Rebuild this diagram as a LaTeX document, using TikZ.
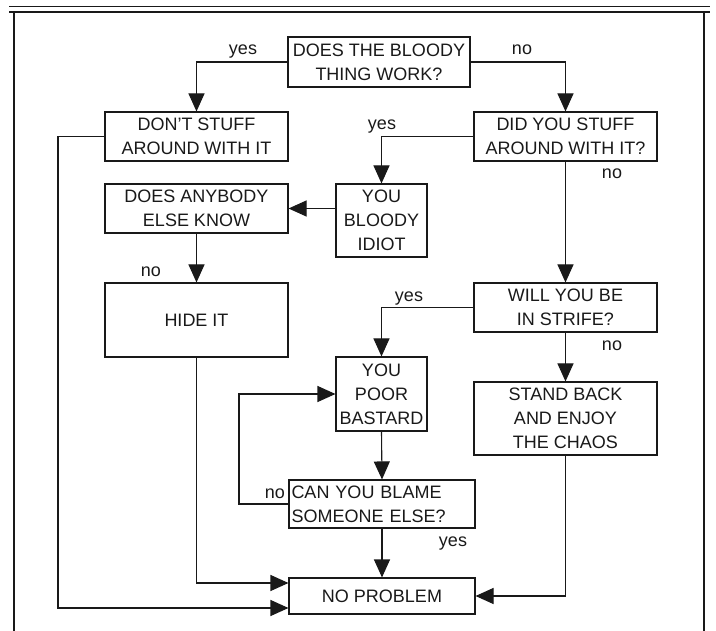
\documentclass[tikz,border=0pt]{standalone}
\usepackage{fontspec}
\setmainfont{Liberation Sans}
\usetikzlibrary{arrows.meta}
\definecolor{ink}{RGB}{25, 25, 25}

\begin{document}
\begin{tikzpicture}[x=1pt, y=-1pt,
    stepbox/.style={draw=ink, line width=1.1pt, rectangle, inner sep=0pt, align=center,
        text=ink, font=\fontsize{18}{24}\selectfont},
    widebox/.style={stepbox, minimum width=183pt, minimum height=49pt},
    narrowbox/.style={stepbox, minimum width=91pt, minimum height=73pt},
    flow/.style={draw=ink, line width=1.1pt, -{Triangle[length=18pt, width=16pt]}},
    answer/.style={text=ink, inner sep=0pt, anchor=base, font=\fontsize{18}{20}\selectfont}]
    % Page size of the scanned sheet
    \useasboundingbox (0, 0) rectangle (716, 631);

    % ----------------------------------------------------
    % Sheet frame: double rule on top, open at the bottom
    % ----------------------------------------------------
    \draw[ink, line width=1pt] (9, 7) -- (710, 7);
    \draw[ink, line width=2pt] (9, 12) -- (710, 12);
    \draw[ink, line width=1.2pt] (14, 12) -- (14, 631);
    \draw[ink, line width=1.2pt] (704, 12) -- (704, 631);

    % ----------------------------------------------------
    % Boxes
    % ----------------------------------------------------
    \node[stepbox, minimum width=182pt, minimum height=50pt] (works) at (379, 62) {DOES THE BLOODY\\THING WORK?};
    \node[widebox] (dontstuff) at (196.5, 136.5) {DON'T STUFF\\AROUND WITH IT};
    \node[widebox] (didstuff) at (565.5, 136.5) {DID YOU STUFF\\AROUND WITH IT?};
    \node[narrowbox] (idiot) at (381.5, 220.5) {YOU\\BLOODY\\IDIOT};
    \node[widebox] (anybody) at (196.5, 208.5) {DOES ANYBODY\\ELSE KNOW};
    \node[widebox, minimum height=74pt] (hideit) at (196.5, 320) {HIDE IT};
    \node[widebox] (strife) at (565.5, 307.5) {WILL YOU BE\\IN STRIFE?};
    \node[narrowbox, minimum height=74pt] (bastard) at (381.5, 394) {YOU\\POOR\\BASTARD};
    \node[widebox, minimum height=73pt] (chaos) at (565.5, 418.5) {STAND BACK\\AND ENJOY\\THE CHAOS};
    \node[stepbox, align=left, text width=181pt, inner xsep=2.5pt, minimum height=48pt] (blame) at (382, 504) {CAN YOU BLAME\\SOMEONE ELSE?};
    \node[stepbox, minimum width=186pt, minimum height=36pt] (noproblem) at (382, 596) {NO PROBLEM};

    % Bend points of the two long returns
    \coordinate (outer) at (58, 136.5);
    \coordinate (loop) at (239, 504);

    % ----------------------------------------------------
    % Connectors
    % ----------------------------------------------------
    \draw[flow] (works.west) -| (dontstuff.north);
    \draw[flow] (works.east) -| (didstuff.north);
    \draw[flow] (dontstuff.west) -- (outer) |- ([yshift=-12pt]noproblem.west);
    \draw[flow] (didstuff.west) -| (idiot.north);
    \draw[flow] (idiot.west |- anybody.east) -- (anybody.east);
    \draw[flow] (anybody.south) -- (hideit.north);
    \draw[flow] (hideit.south) |- ([yshift=13pt]noproblem.west);
    \draw[flow] (didstuff.south) -- (strife.north);
    \draw[flow] (strife.west) -| (bastard.north);
    \draw[flow] (strife.south) -- (chaos.north);
    \draw[flow] (chaos.south) |- (noproblem.east);
    \draw[flow] (bastard.south) -- (blame.north);
    \draw[flow] (blame.west) -- (loop) |- (bastard.west);
    \draw[flow] (blame.south) -- (noproblem.north);

    % ----------------------------------------------------
    % Answers
    % ----------------------------------------------------
    \node[answer] (yesworks) at (243, 55) {yes};
    \node[answer] (noworks) at (522, 55) {no};
    \node[answer] (yesstuff) at (382, 130) {yes};
    \node[answer] (nostuff) at (612, 179) {no};
    \node[answer] (noknow) at (151, 277) {no};
    \node[answer] (yesstrife) at (409, 302) {yes};
    \node[answer] (nostrife) at (612, 351) {no};
    \node[answer] (noblame) at (275, 498) {no};
    \node[answer] (yesblame) at (453, 547) {yes};

\end{tikzpicture}
\end{document}
